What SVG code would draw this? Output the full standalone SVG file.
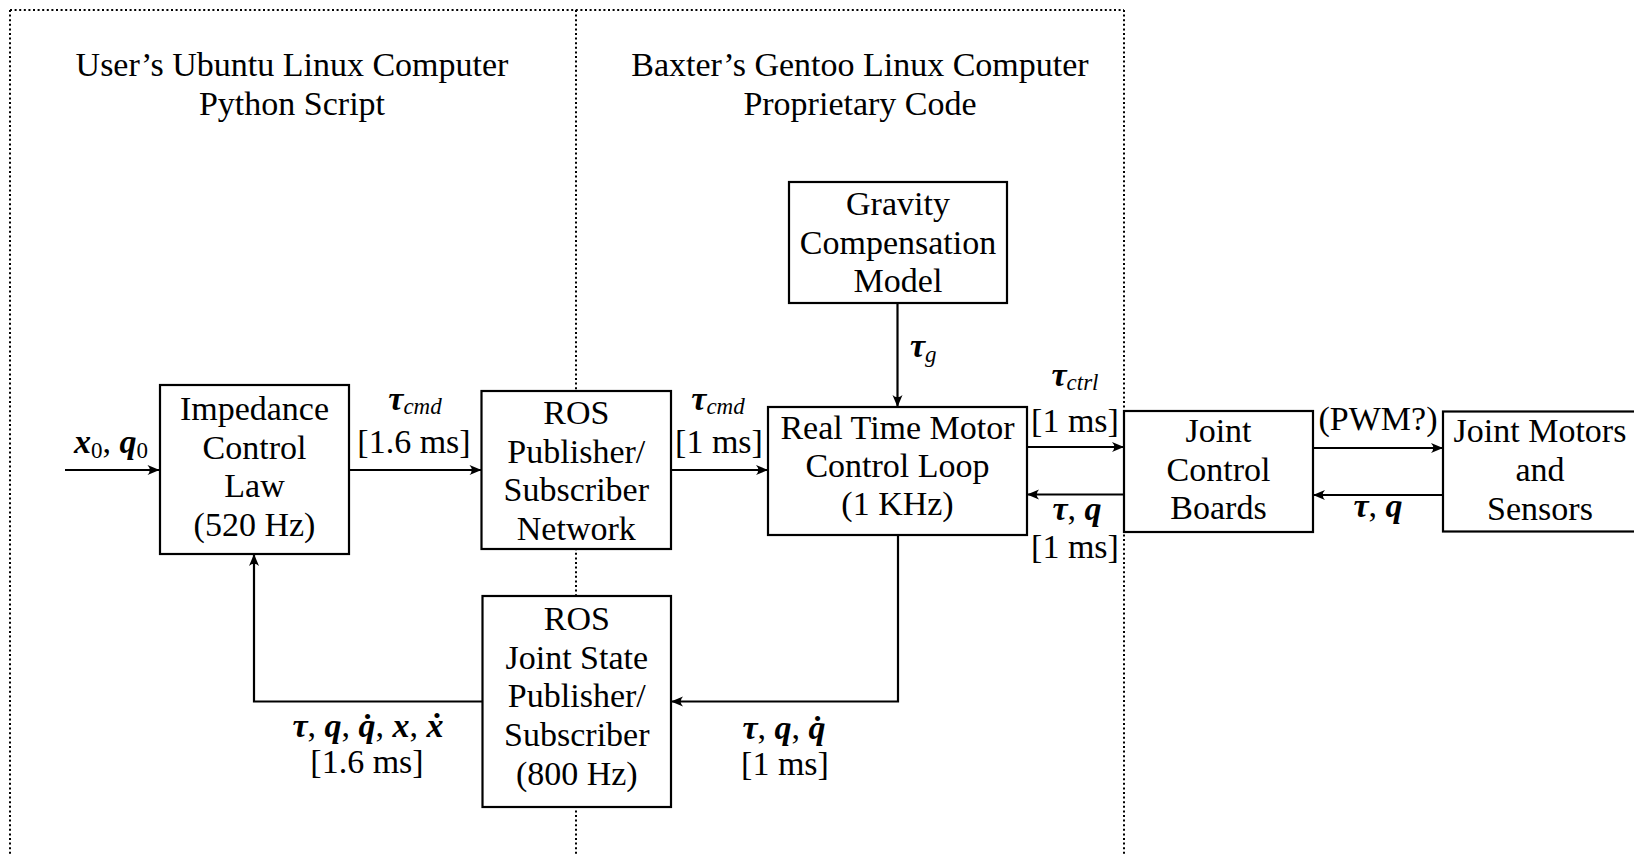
<svg xmlns="http://www.w3.org/2000/svg" width="1634" height="855" viewBox="0 0 1634 855">
  <style>
    .frame { fill: none; stroke: #000; stroke-width: 2; stroke-dasharray: 2 2.6; }
    .box { fill: #fff; stroke: #000; stroke-width: 2.2; }
    .wire { fill: none; stroke: #000; stroke-width: 2.2; }
    .t { font-family: "Liberation Serif", "Times New Roman", serif; font-size: 34px; fill: #000; text-anchor: middle; }
    .bi { font-weight: bold; font-style: italic; }
    .sub { font-size: 23px; font-style: italic; font-weight: normal; }
    .subr { font-size: 23px; font-style: normal; font-weight: normal; }
  </style>
  <defs>
    <marker id="arr" viewBox="-13 -6 14 12" refX="0" refY="0" markerWidth="14" markerHeight="12" orient="auto" markerUnits="userSpaceOnUse">
      <path d="M0,0 L-12,-5 Q-7.5,0 -12,5 Z" fill="#000"/>
    </marker>
  </defs>

  <rect width="1634" height="855" fill="#fff"/>

  <!-- computer boundaries -->
  <g id="frames">
    <path class="frame" d="M10,10 H1124"/>
    <path class="frame" d="M10,10 V855"/>
    <path class="frame" d="M576,10 V855"/>
    <path class="frame" d="M1124,10 V855"/>
    <text class="t" x="292" y="76">User’s Ubuntu Linux Computer</text>
    <text class="t" x="292" y="115">Python Script</text>
    <text class="t" x="860" y="76">Baxter’s Gentoo Linux Computer</text>
    <text class="t" x="860" y="115">Proprietary Code</text>
  </g>

  <!-- connectors -->
  <g id="connectors">
    <path class="wire" d="M65,470 H159.5" marker-end="url(#arr)"/>
    <path class="wire" d="M349,470 H481.5" marker-end="url(#arr)"/>
    <path class="wire" d="M671,470 H768" marker-end="url(#arr)"/>
    <path class="wire" d="M897.5,303 V407" marker-end="url(#arr)"/>
    <path class="wire" d="M1027,447 H1124" marker-end="url(#arr)"/>
    <path class="wire" d="M1124,494.5 H1027" marker-end="url(#arr)"/>
    <path class="wire" d="M1313,448 H1443" marker-end="url(#arr)"/>
    <path class="wire" d="M1443,495 H1313" marker-end="url(#arr)"/>
    <path class="wire" d="M898,535 V701.5 H671" marker-end="url(#arr)"/>
    <path class="wire" d="M482.5,701.5 H254 V554" marker-end="url(#arr)"/>

    <!-- signal labels -->
    <text class="t" x="111" y="453"><tspan class="bi">x</tspan><tspan class="subr" dy="5">0</tspan><tspan dy="-5">, </tspan><tspan class="bi">q</tspan><tspan class="subr" dy="5">0</tspan></text>

    <text class="t" x="415" y="410"><tspan class="bi">τ</tspan><tspan class="sub" dy="4">cmd</tspan></text>
    <text class="t" x="414" y="453">[1.6 ms]</text>

    <text class="t" x="718" y="410"><tspan class="bi">τ</tspan><tspan class="sub" dy="4">cmd</tspan></text>
    <text class="t" x="719" y="453">[1 ms]</text>

    <text class="t" x="910" y="357" style="text-anchor:start"><tspan class="bi">τ</tspan><tspan class="sub" dy="5">g</tspan></text>

    <text class="t" x="1075" y="386"><tspan class="bi">τ</tspan><tspan class="sub" dy="4">ctrl</tspan></text>
    <text class="t" x="1075" y="432">[1 ms]</text>

    <text class="t" x="1077" y="520"><tspan class="bi">τ</tspan>, <tspan class="bi">q</tspan></text>
    <text class="t" x="1075" y="558">[1 ms]</text>

    <text class="t" x="1378" y="430">(PWM?)</text>
    <text class="t" x="1378" y="517"><tspan class="bi">τ</tspan>, <tspan class="bi">q</tspan></text>

    <text class="t" x="784" y="739"><tspan class="bi">τ</tspan>, <tspan class="bi">q</tspan>, <tspan class="bi">q&#x307;</tspan></text>
    <text class="t" x="785" y="775">[1 ms]</text>

    <text class="t" x="368" y="737"><tspan class="bi">τ</tspan>, <tspan class="bi">q</tspan>, <tspan class="bi">q&#x307;</tspan>, <tspan class="bi">x</tspan>, <tspan class="bi">x&#x307;</tspan></text>
    <text class="t" x="367" y="773">[1.6 ms]</text>
  </g>

  <!-- blocks -->
  <g id="gravity">
    <rect class="box" x="789" y="182" width="218" height="121"/>
    <text class="t" x="898" y="215">Gravity</text>
    <text class="t" x="898" y="254">Compensation</text>
    <text class="t" x="898" y="292">Model</text>
  </g>

  <g id="impedance">
    <rect class="box" x="160" y="385" width="189" height="169"/>
    <text class="t" x="254.5" y="420">Impedance</text>
    <text class="t" x="254.5" y="458.5">Control</text>
    <text class="t" x="254.5" y="497">Law</text>
    <text class="t" x="254.5" y="536">(520 Hz)</text>
  </g>

  <g id="ros-network">
    <rect class="box" x="481.5" y="391" width="189.5" height="158"/>
    <text class="t" x="576.3" y="424">ROS</text>
    <text class="t" x="576.3" y="462.7">Publisher/</text>
    <text class="t" x="576.3" y="501.4">Subscriber</text>
    <text class="t" x="576.3" y="540">Network</text>
  </g>

  <g id="motor-loop">
    <rect class="box" x="768" y="407" width="259" height="128"/>
    <text class="t" x="897.5" y="438.5">Real Time Motor</text>
    <text class="t" x="897.5" y="477">Control Loop</text>
    <text class="t" x="897.5" y="515">(1 KHz)</text>
  </g>

  <g id="joint-boards">
    <rect class="box" x="1124" y="411" width="189" height="121"/>
    <text class="t" x="1218.5" y="442">Joint</text>
    <text class="t" x="1218.5" y="480.5">Control</text>
    <text class="t" x="1218.5" y="519">Boards</text>
  </g>

  <g id="motors-sensors">
    <rect class="box" x="1443" y="411.5" width="194" height="120"/>
    <text class="t" x="1540" y="442">Joint Motors</text>
    <text class="t" x="1540" y="480.5">and</text>
    <text class="t" x="1540" y="519.5">Sensors</text>
  </g>

  <g id="ros-joint-state">
    <rect class="box" x="482.5" y="596" width="188.5" height="211"/>
    <text class="t" x="576.8" y="630">ROS</text>
    <text class="t" x="576.8" y="668.5">Joint State</text>
    <text class="t" x="576.8" y="707">Publisher/</text>
    <text class="t" x="576.8" y="745.7">Subscriber</text>
    <text class="t" x="576.8" y="784.5">(800 Hz)</text>
  </g>
</svg>
